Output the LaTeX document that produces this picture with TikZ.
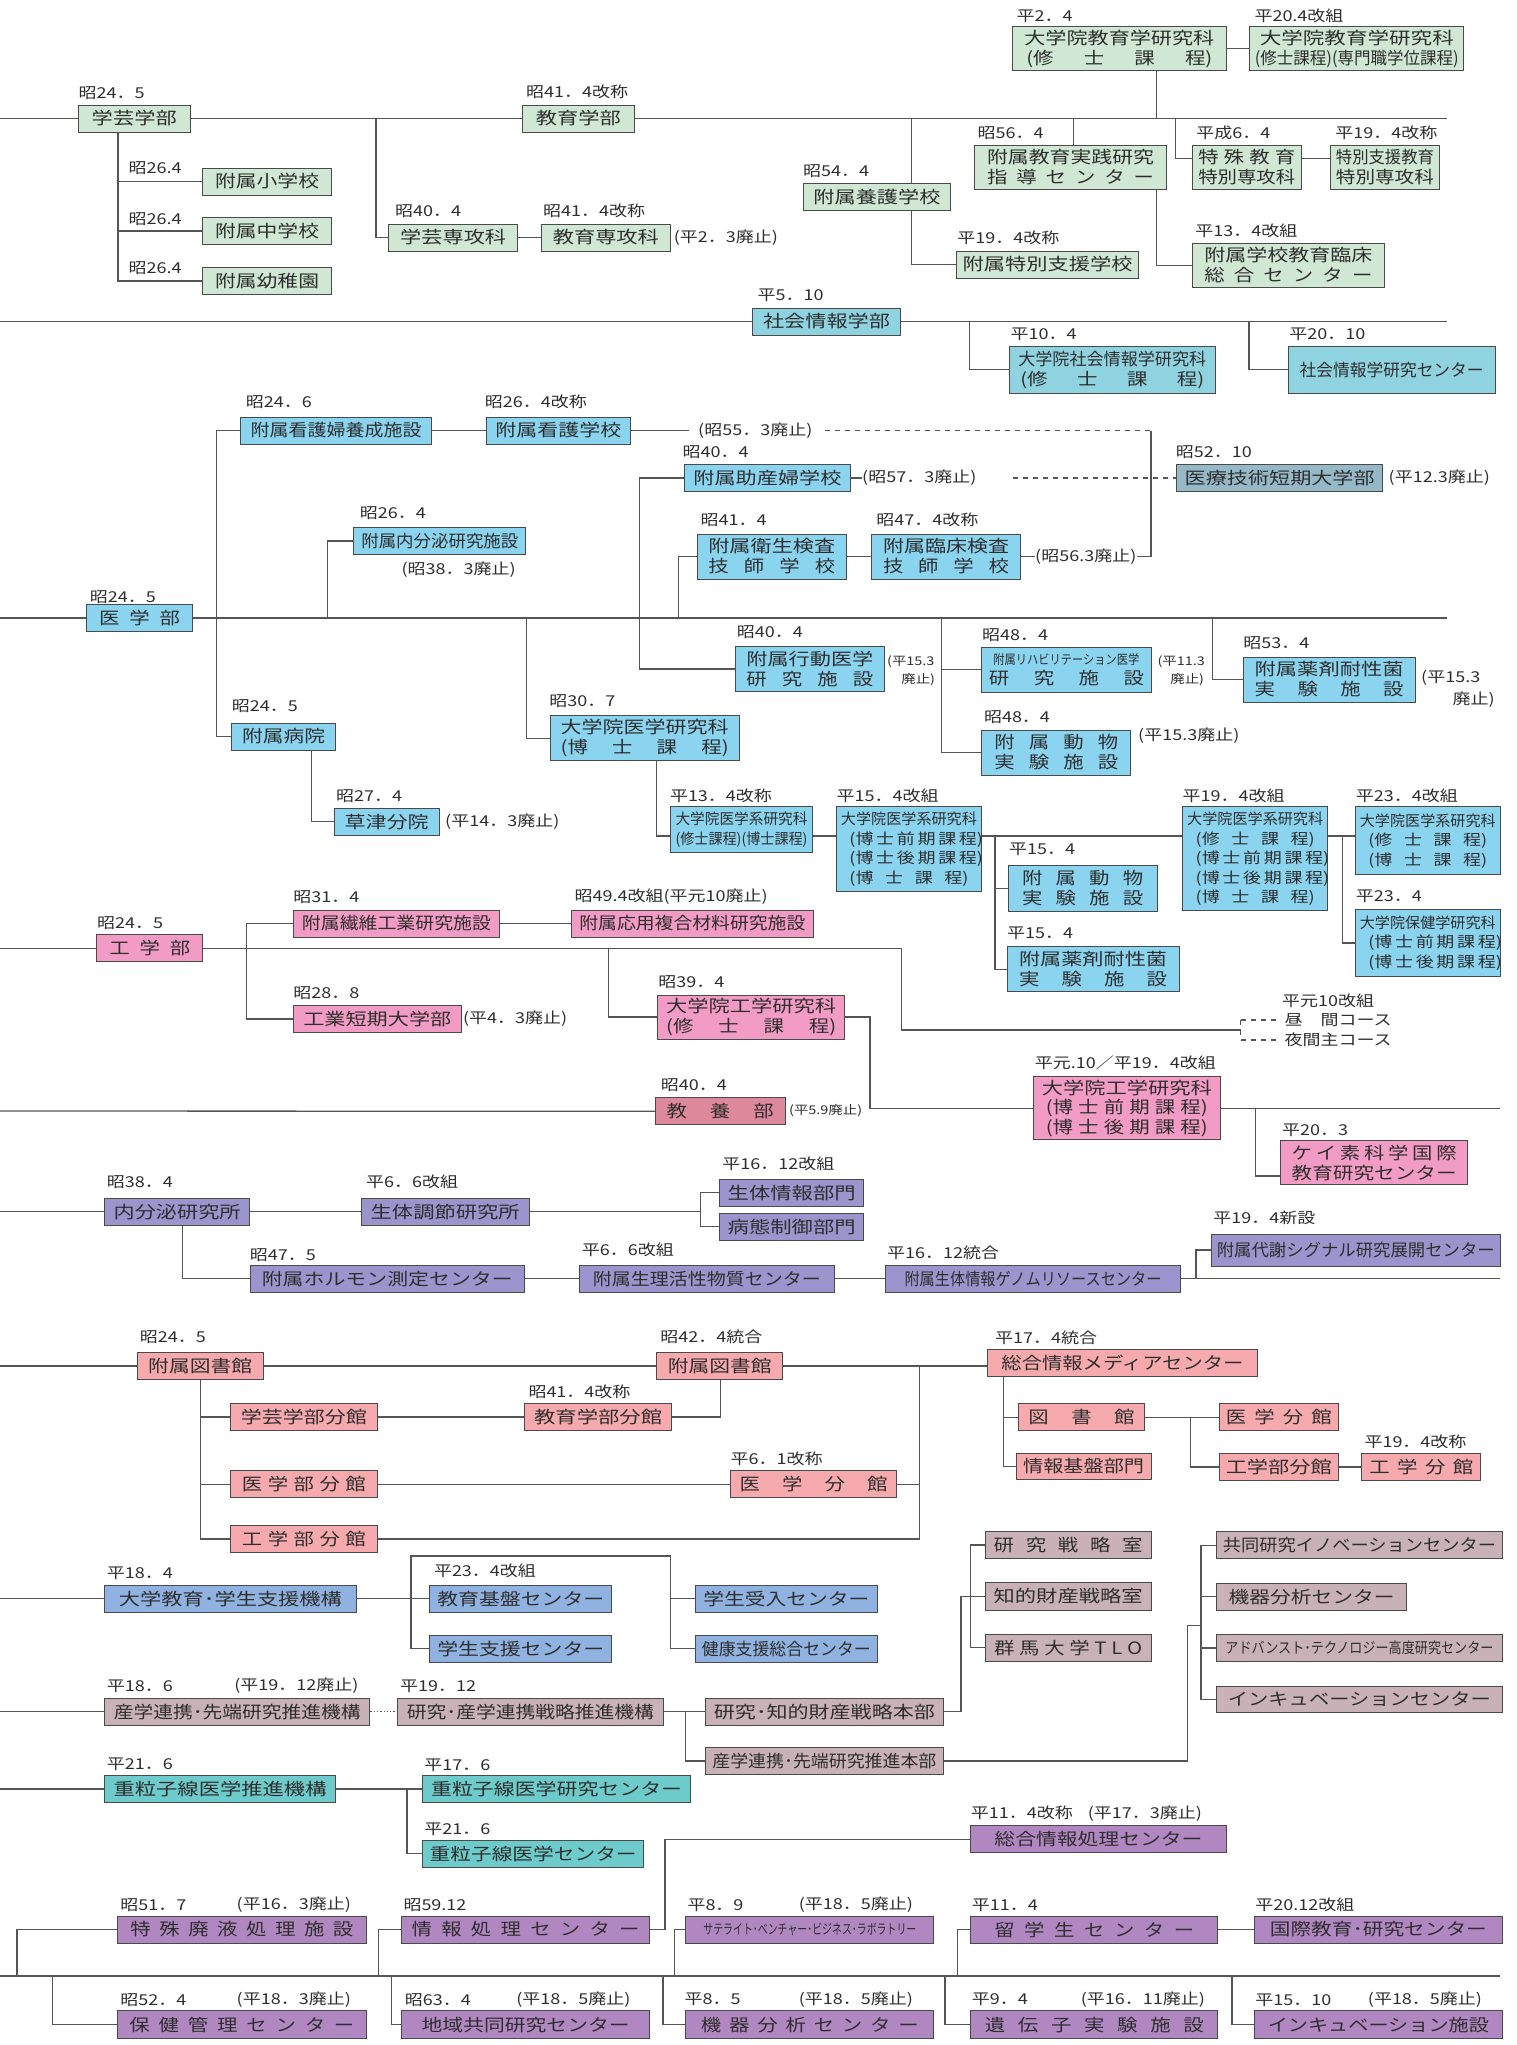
\documentclass[tikz,border=0pt]{standalone}
\usepackage{fontspec}
\usepackage{graphicx}
\newfontfamily\jp[FakeStretch=1.2]{Noto Sans CJK JP}
\pgfdeclarelayer{bgfill}
\pgfdeclarelayer{lines}
\pgfsetlayers{bgfill,lines,main}
\definecolor{cEdu}{HTML}{CFE7D3}
\definecolor{cSoc}{HTML}{8FD3E1}
\definecolor{cMed}{HTML}{8AD4F0}
\definecolor{cIryo}{HTML}{96B9C8}
\definecolor{cEng}{HTML}{F29BC4}
\definecolor{cKyoyo}{HTML}{DE899B}
\definecolor{cEndo}{HTML}{9B94CD}
\definecolor{cLib}{HTML}{F6AAAE}
\definecolor{cStu}{HTML}{8FB2E0}
\definecolor{cInd}{HTML}{C9B1B8}
\definecolor{cJur}{HTML}{6ECBCB}
\definecolor{cBot}{HTML}{B187C1}
\definecolor{cLn}{HTML}{555555}
\definecolor{cBdr}{HTML}{4A4A4A}
\definecolor{cTxt}{HTML}{2E2E2E}
\newcommand\jw[2]{\resizebox{#1pt}{\height}{#2}}
\newcommand\js[2]{\makebox[#1pt][s]{#2}}
\newcommand\mybox[8][]{%
  \pgfmathsetmacro\bxw{(#5)-(#4)}%
  \pgfmathsetmacro\bxc{((#4)+(#5))/2}%
  \node[bx,#1,fill=#3,minimum width=\bxw pt,minimum height=#7 pt] (#2) at (\bxc,#6) {#8};}
\tikzset{
  bx/.style={draw=cBdr,line width=1pt,inner sep=0pt,align=center,text=cTxt,font=\jp\fontsize{17}{20}\selectfont},
  sbx/.style={font=\jp\fontsize{15}{19.5}\selectfont},
  lbl/.style={anchor=west,inner sep=0pt,text=cTxt,font=\jp\fontsize{15}{17}\selectfont},
  sm/.style={anchor=west,inner sep=0pt,text=cTxt,font=\jp\fontsize{12}{14}\selectfont},
  ln/.style={draw=cLn,line width=1.3pt},
  dsh/.style={dash pattern=on 5pt off 5pt},
}
\begin{document}
\begin{tikzpicture}[x=1pt,y=-1pt]
\useasboundingbox (0,0) rectangle (1516,2045);
\begin{pgfonlayer}{bgfill}
\fill[white] (0,0) rectangle (1516,2045);
\end{pgfonlayer}

% ---------- Education ----------
\mybox{gakugei}{cEdu}{78.5}{190}{118.5}{27}{\jw{85}{学芸学部}}
\mybox{shogaku}{cEdu}{202.6}{331.5}{181.5}{27}{\jw{104}{附属小学校}}
\mybox{chugaku}{cEdu}{202.6}{331.5}{231}{27}{\jw{104}{附属中学校}}
\mybox{yochien}{cEdu}{202.6}{331.5}{281}{27}{\jw{104}{附属幼稚園}}
\mybox{gsenkou}{cEdu}{388.7}{517.6}{237.5}{27}{\jw{106}{学芸専攻科}}
\mybox{ksenkou}{cEdu}{541.4}{670.3}{237.5}{27}{\jw{106}{教育専攻科}}
\mybox{kyoiku}{cEdu}{522.5}{634}{118.5}{27}{\jw{85}{教育学部}}
\mybox{gradEd}{cEdu}{1012.4}{1226.2}{48.7}{44}{\jw{190}{大学院教育学研究科}\\\js{186}{(修 士 課 程)}}
\mybox{gradEdB}{cEdu}{1249.9}{1463.7}{48.7}{44}{\jw{194}{大学院教育学研究科}\\\jw{204}{(修士課程)(専門職学位課程)}}
\mybox{yogo}{cEdu}{803}{950.9}{196.8}{27}{\jw{127}{附属養護学校}}
\mybox{tokubetsu}{cEdu}{956.2}{1138.9}{264.5}{27}{\jw{170}{附属特別支援学校}}
\mybox{jissen}{cEdu}{974.6}{1166.5}{167.5}{44}{\jw{167}{附属教育実践研究}\\\js{167}{指 導 セ ン タ ー}}
\mybox{rinsho}{cEdu}{1192.2}{1384.6}{265.5}{44}{\jw{168}{附属学校教育臨床}\\\js{168}{総 合 セ ン タ ー}}
\mybox{tokushu}{cEdu}{1192.2}{1301.3}{167.5}{44}{\js{97}{特 殊 教 育}\\\jw{97}{特別専攻科}}
\mybox{tokushien}{cEdu}{1330.4}{1439.4}{167.5}{44}{\jw{98}{特別支援教育}\\\jw{98}{特別専攻科}}

\node[lbl] (la1) at (78.5,93) {昭24．5};
\node[lbl] (la2) at (128.4,168.3) {昭26.4};
\node[lbl] (la3) at (128.4,219) {昭26.4};
\node[lbl] (la4) at (128.4,268.5) {昭26.4};
\node[lbl] (la5) at (395,211) {昭40．4};
\node[lbl] (la6) at (542.9,211) {昭41．4改称};
\node[lbl] (la7) at (673.7,238) {(平2．3廃止)};
\node[lbl] (la8) at (525.9,91.7) {昭41．4改称};
\node[lbl] (la9) at (1016.3,16.3) {平2．4};
\node[lbl] (la10) at (1254.3,16.3) {平20.4改組};
\node[lbl] (la11) at (803,171) {昭54．4};
\node[lbl] (la12) at (957.1,238.3) {平19．4改称};
\node[lbl] (la13) at (977.5,133.3) {昭56．4};
\node[lbl] (la14) at (1195.1,231) {平13．4改組};
\node[lbl] (la15) at (1196.1,133.3) {平成6．4};
\node[lbl] (la16) at (1335.2,133.3) {平19．4改称};

% ---------- Social informatics ----------
\mybox{shakai}{cSoc}{752.7}{900.4}{321.5}{27}{\jw{127}{社会情報学部}}
\mybox{gradSoc}{cSoc}{1009}{1215.5}{369.7}{47}{\jw{188}{大学院社会情報学研究科}\\\js{184}{(修 士 課 程)}}
\mybox{socCenter}{cSoc}{1288.2}{1495.1}{369.7}{47}{\jw{184}{社会情報学研究センター}}
\node[lbl] (la17) at (757.5,295) {平5．10};
\node[lbl] (la18) at (1010.5,334.5) {平10．4};
\node[lbl] (la19) at (1289.2,334.5) {平20．10};

% ---------- Medicine ----------
\mybox{igaku}{cMed}{86.3}{192.9}{618}{27}{\js{81}{医 学 部}}
\mybox{kango1}{cMed}{240.9}{431.4}{430.5}{27}{\jw{171}{附属看護婦養成施設}}
\mybox{kango2}{cMed}{486.1}{630.6}{430.5}{27}{\jw{126}{附属看護学校}}
\mybox{josan}{cMed}{684.4}{850.5}{478}{27}{\jw{148}{附属助産婦学校}}
\mybox{eisei}{cMed}{697}{846.6}{556.5}{45}{\jw{127}{附属衛生検査}\\\js{127}{技 師 学 校}}
\mybox{rinshoken}{cMed}{871.4}{1020.6}{556.5}{45}{\jw{126}{附属臨床検査}\\\js{126}{技 師 学 校}}
\mybox{iryo}{cIryo}{1176.7}{1382.7}{478}{27}{\jw{190}{医療技術短期大学部}}
\mybox{naibunpiA}{cMed}{353.8}{525.9}{541}{27}{\jw{157}{附属内分泌研究施設}}
\mybox{kodo}{cMed}{735.3}{884.4}{669}{45}{\jw{127}{附属行動医学}\\\js{127}{研 究 施 設}}
\mybox{rihabiri}{cMed}{981.9}{1151}{669.5}{45}{\jw{146}{\fontsize{13}{15}\selectfont 附属リハビリテーション医学}\\\js{155}{研 究 施 設}}
\mybox{dobutsuA}{cMed}{981.9}{1130.7}{752.5}{45}{\js{124}{附 属 動 物}\\\js{124}{実 験 施 設}}
\mybox{yakuzaiA}{cMed}{1243.1}{1415.2}{679.5}{45}{\jw{149}{附属薬剤耐性菌}\\\js{149}{実 験 施 設}}
\mybox{byoin}{cMed}{231.2}{335.9}{736.5}{27}{\jw{83}{附属病院}}
\mybox{kusatsu}{cMed}{334}{439.1}{821.8}{27}{\jw{84}{草津分院}}
\mybox{gradMed}{cMed}{550.1}{739.2}{738.3}{45}{\jw{168}{大学院医学研究科}\\\js{168}{(博 士 課 程)}}
\mybox[sbx]{gradMedB}{cMed}{670.3}{812.7}{829.5}{45.6}{\jw{132}{大学院医学系研究科}\\\jw{132}{(修士課程)(博士課程)}}
\mybox[sbx]{gradMedC}{cMed}{836.5}{981.4}{849.2}{85}{\jw{136}{大学院医学系研究科}\\\js{119}{(博 士 前 期 課 程)}\\\js{119}{(博 士 後 期 課 程)}\\\js{119}{(博 士 課 程)}}
\mybox{dobutsuB}{cMed}{1008}{1157.3}{888.5}{45.7}{\js{121}{附 属 動 物}\\\js{121}{実 験 施 設}}
\mybox{yakuzaiB}{cMed}{1007}{1179.1}{969.2}{45}{\jw{148}{附属薬剤耐性菌}\\\js{148}{実 験 施 設}}
\mybox[sbx]{gradMedD}{cMed}{1182.5}{1327.9}{858.8}{104.3}{\jw{136}{大学院医学系研究科}\\\js{119}{(修 士 課 程)}\\\js{119}{(博 士 前 期 課 程)}\\\js{119}{(博 士 後 期 課 程)}\\\js{119}{(博 士 課 程)}}
\mybox[sbx]{gradMedE}{cMed}{1355.6}{1500}{840.8}{68.3}{\jw{136}{大学院医学系研究科}\\\js{119}{(修 士 課 程)}\\\js{119}{(博 士 課 程)}}
\mybox[sbx]{hokengaku}{cMed}{1355.6}{1500}{943}{67.7}{\jw{136}{大学院保健学研究科}\\\js{119}{(博 士 前 期 課 程)}\\\js{119}{(博 士 後 期 課 程)}}

\node[lbl] (la20) at (245.7,401.7) {昭24．6};
\node[lbl] (la21) at (484.7,401.7) {昭26．4改称};
\node[lbl] (n55) at (698,430.5) {(昭55．3廃止)};
\node[lbl] (la22) at (682.4,451.7) {昭40．4};
\node[lbl] (n57) at (862,478) {(昭57．3廃止)};
\node[lbl] (la23) at (1175.7,452.3) {昭52．10};
\node[lbl] (la24) at (1388.5,478) {(平12.3廃止)};
\node[lbl] (la25) at (700.4,520) {昭41．4};
\node[lbl] (la26) at (876.2,520) {昭47．4改称};
\node[lbl] (n56) at (1035,556.5) {(昭56.3廃止)};
\node[lbl] (la27) at (359.6,513.3) {昭26．4};
\node[lbl] (la28) at (401.3,569.3) {(昭38．3廃止)};
\node[lbl] (la29) at (89.7,596.7) {昭24．5};
\node[lbl] (la30) at (736.7,631.7) {昭40．4};
\node[sm] (sm1) at (887,661.7) {(平15.3};
\node[sm,anchor=east] (sm2) at (935.3,680) {廃止)};
\node[lbl] (la31) at (981.9,635) {昭48．4};
\node[sm] (sm3) at (1157.3,661.7) {(平11.3};
\node[sm,anchor=east] (sm4) at (1204.3,680) {廃止)};
\node[lbl] (la32) at (1243.1,643.3) {昭53．4};
\node[lbl] (la33) at (1421,678.3) {(平15.3};
\node[lbl,anchor=east] (la34) at (1495,700) {廃止)};
\node[lbl] (la35) at (231.7,706) {昭24．5};
\node[lbl] (la36) at (335.9,796) {昭27．4};
\node[lbl] (la37) at (445,821.7) {(平14．3廃止)};
\node[lbl] (la38) at (549.2,701) {昭30．7};
\node[lbl] (la39) at (669.8,796) {平13．4改称};
\node[lbl] (la40) at (836.5,796) {平15．4改組};
\node[lbl] (la41) at (1009,849.3) {平15．4};
\node[lbl] (la42) at (1007,933.3) {平15．4};
\node[lbl] (la43) at (1182.5,796) {平19．4改組};
\node[lbl] (la44) at (1355.6,796) {平23．4改組};
\node[lbl] (la45) at (1355.6,896.7) {平23．4};
\node[lbl] (la46) at (983.8,716.7) {昭48．4};
\node[lbl] (la47) at (1138,736) {(平15.3廃止)};

% ---------- Engineering ----------
\mybox{kogaku}{cEng}{96.9}{202.6}{948.3}{27}{\js{81}{工 学 部}}
\mybox{seni}{cEng}{293.2}{499.7}{923.5}{27}{\jw{189}{附属繊維工業研究施設}}
\mybox{oyo}{cEng}{571}{813.7}{923.5}{27}{\jw{226}{附属応用複合材料研究施設}}
\mybox{tandai}{cEng}{293.2}{461.4}{1019}{27}{\jw{148}{工業短期大学部}}
\mybox{gradEngA}{cEng}{657.7}{844.7}{1017}{44}{\jw{170}{大学院工学研究科}\\\js{170}{(修 士 課 程)}}
\mybox[font=\jp\fontsize{17}{19.5}\selectfont]{gradEngB}{cEng}{1033.2}{1220.3}{1108.3}{63.3}{\jw{170}{大学院工学研究科}\\\js{162}{(博 士 前 期 課 程)}\\\js{162}{(博 士 後 期 課 程)}}
\mybox{keiso}{cEng}{1280.9}{1467.5}{1162.8}{43.7}{\js{165}{ケ イ 素 科 学 国 際}\\\jw{165}{教育研究センター}}
\mybox{kyoyo}{cKyoyo}{655.3}{785.1}{1111.3}{27.3}{\js{107}{教 養 部}}

\node[lbl] (la48) at (293.2,896.7) {昭31．4};
\node[lbl] (la49) at (574.4,896.7) {昭49.4改組(平元10廃止)};
\node[lbl] (la50) at (96.9,922.7) {昭24．5};
\node[lbl] (la51) at (293.2,993.3) {昭28．8};
\node[lbl] (la52) at (462.9,1019) {(平4．3廃止)};
\node[lbl] (la53) at (658.2,981.7) {昭39．4};
\node[lbl] (la54) at (1281.9,1000.7) {平元10改組};
\node[lbl] (la55) at (1284.3,1020) {昼　間コース};
\node[lbl] (la56) at (1284.3,1040) {夜間主コース};
\node[lbl] (la57) at (1034.7,1062.7) {平元.10／平19．4改組};
\node[lbl] (la58) at (1281.9,1130) {平20．3};
\node[lbl] (la59) at (660.6,1085) {昭40．4};
\node[sm] (sm5) at (789,1111) {(平5.9廃止)};

% ---------- Endocrine ----------
\mybox{naibunpi}{cEndo}{104.7}{249.6}{1211.7}{26.7}{\jw{127}{内分泌研究所}}
\mybox{seitai}{cEndo}{361.1}{529.3}{1211.7}{26.7}{\jw{149}{生体調節研究所}}
\mybox{seitaijoho}{cEndo}{719.8}{863.6}{1192.7}{26.7}{\jw{128}{生体情報部門}}
\mybox{byotai}{cEndo}{719.8}{863.6}{1226.7}{26.7}{\jw{128}{病態制御部門}}
\mybox{hormone}{cEndo}{250.1}{524.4}{1278.7}{27.3}{\jw{251}{附属ホルモン測定センター}}
\mybox{seiri}{cEndo}{579.2}{834.5}{1278.7}{27.3}{\jw{228}{附属生理活性物質センター}}
\mybox{genome}{cEndo}{885.9}{1180.1}{1278.7}{27.3}{\jw{257}{附属生体情報ゲノムリソースセンター}}
\mybox{taisha}{cEndo}{1211.6}{1500}{1250}{32}{\jw{278}{附属代謝シグナル研究展開センター}}

\node[lbl] (la60) at (106.6,1182.3) {昭38．4};
\node[lbl] (la61) at (365.9,1182.3) {平6．6改組};
\node[lbl] (la62) at (722.2,1164) {平16．12改組};
\node[lbl] (la63) at (249.6,1255) {昭47．5};
\node[lbl] (la64) at (581.6,1250) {平6．6改組};
\node[lbl] (la65) at (886.9,1253.3) {平16．12統合};
\node[lbl] (la66) at (1213.1,1218.3) {平19．4新設};

% ---------- Library ----------
\mybox{libA}{cLib}{137.2}{263.2}{1366}{27.4}{\jw{104}{附属図書館}}
\mybox{libB}{cLib}{656.8}{782.7}{1366}{27.4}{\jw{104}{附属図書館}}
\mybox{media}{cLib}{987.2}{1257.7}{1363}{27}{\jw{242}{総合情報メディアセンター}}
\mybox{gakugeiBun}{cLib}{230.7}{377.1}{1417}{27.4}{\jw{126}{学芸学部分館}}
\mybox{kyoikuBun}{cLib}{524.4}{671.8}{1417}{27.4}{\jw{128}{教育学部分館}}
\mybox{igakuBun}{cLib}{230.7}{377.1}{1484.2}{27}{\js{124}{医 学 部 分 館}}
\mybox{kogakuBun}{cLib}{230.7}{377.1}{1539}{27.3}{\js{124}{工 学 部 分 館}}
\mybox{igakuBunkan}{cLib}{730.4}{896.6}{1484.2}{27}{\js{148}{医 学 分 館}}
\mybox{tosho}{cLib}{1018.2}{1144.7}{1417.3}{27.3}{\js{106}{図 書 館}}
\mybox{johokiban}{cLib}{1016.3}{1151}{1466.5}{26.3}{\jw{121}{情報基盤部門}}
\mybox{igakuBunB}{cLib}{1219.4}{1338.1}{1417.3}{27.3}{\js{106}{医 学 分 館}}
\mybox{kogakuBunB}{cLib}{1219.4}{1338.1}{1467}{26.6}{\jw{106}{工学部分館}}
\mybox{kogakuBunkan}{cLib}{1361.9}{1480.6}{1467}{26.6}{\js{104}{工 学 分 館}}

\node[lbl] (la67) at (139.6,1336.7) {昭24．5};
\node[lbl] (la68) at (660.1,1336.7) {昭42．4統合};
\node[lbl] (la69) at (995,1337.7) {平17．4統合};
\node[lbl] (la70) at (528.3,1391.7) {昭41．4改称};
\node[lbl] (la71) at (730.4,1458.7) {平6．1改称};
\node[lbl] (la72) at (1364.3,1441.7) {平19．4改称};

% ---------- Student support ----------
\mybox{daigaku}{cStu}{104.7}{356.2}{1598.7}{27.3}{\jw{223}{大学教育･学生支援機構}}
\mybox{kiban}{cStu}{429.9}{611.7}{1598.7}{27.3}{\jw{167}{教育基盤センター}}
\mybox{shien}{cStu}{429.9}{611.7}{1648.7}{27.3}{\jw{167}{学生支援センター}}
\mybox{ukeire}{cStu}{695.5}{877.2}{1598.7}{27.3}{\jw{166}{学生受入センター}}
\mybox{kenko}{cStu}{695.5}{877.2}{1648.7}{27.3}{\jw{169}{健康支援総合センター}}
\node[lbl] (la73) at (106.6,1573.3) {平18．4};
\node[lbl] (la74) at (433.8,1570.7) {平23．4改組};

% ---------- Industry ----------
\mybox{sangaku}{cInd}{104.7}{369.8}{1711.7}{26.7}{\jw{247}{産学連携･先端研究推進機構}}
\mybox{kenkyuSangaku}{cInd}{397.9}{663}{1711.7}{26.7}{\jw{247}{研究･産学連携戦略推進機構}}
\mybox{chizai}{cInd}{705.2}{943.6}{1711.7}{26.7}{\jw{221}{研究･知的財産戦略本部}}
\mybox{sentan}{cInd}{705.2}{943.6}{1761}{26.6}{\jw{224}{産学連携･先端研究推進本部}}
\mybox{senryaku}{cInd}{985.3}{1151}{1545}{26.6}{\js{149}{研 究 戦 略 室}}
\mybox{chitekiShitsu}{cInd}{985.3}{1151}{1596.4}{27.3}{\jw{149}{知的財産戦略室}}
\mybox{tlo}{cInd}{985.3}{1151}{1647.5}{27}{\js{148}{群 馬 大 学 T L O}}
\mybox{kyodo}{cInd}{1216.5}{1502.4}{1545.3}{27.3}{\jw{273}{共同研究イノベーションセンター}}
\mybox{kiki}{cInd}{1216.5}{1406.5}{1596.7}{26.7}{\jw{166}{機器分析センター}}
\mybox{advanced}{cInd}{1216.5}{1502.4}{1648}{27.4}{\jw{268}{\fontsize{15}{17}\selectfont アドバンスト･テクノロジー高度研究センター}}
\mybox{incubation}{cInd}{1216.5}{1502.4}{1699.2}{26.3}{\jw{263}{インキュベーションセンター}}
\node[lbl] (la75) at (106.6,1686) {平18．6};
\node[lbl] (la76) at (234.1,1686) {(平19．12廃止)};
\node[lbl] (la77) at (399.9,1686) {平19．12};

% ---------- Heavy ion ----------
\mybox{jurGi}{cJur}{104.7}{335.4}{1789}{26.6}{\jw{213}{重粒子線医学推進機構}}
\mybox{jurKen}{cJur}{422.6}{690.7}{1789}{26.6}{\jw{251}{重粒子線医学研究センター}}
\mybox{jurCen}{cJur}{422.6}{643.7}{1853.8}{27}{\jw{207}{重粒子線医学センター}}
\node[lbl] (la78) at (106.6,1764) {平21．6};
\node[lbl] (la79) at (424.1,1765) {平17．6};
\node[lbl] (la80) at (424.1,1829.3) {平21．6};

% ---------- Bottom group ----------
\mybox{haieki}{cBot}{117.8}{366}{1929.5}{27}{\js{223}{特 殊 廃 液 処 理 施 設}}
\mybox{hokenkanri}{cBot}{117.8}{366}{2024.6}{27.3}{\js{225}{保 健 管 理 セ ン タ ー}}
\mybox{joho}{cBot}{401.8}{649.5}{1929.5}{27}{\js{228}{情 報 処 理 セ ン タ ー}}
\mybox{chiiki}{cBot}{401.8}{649.5}{2024.6}{27.3}{\jw{208}{地域共同研究センター}}
\mybox{satellite}{cBot}{685.8}{933.9}{1929.5}{27}{\jw{213}{\fontsize{14}{16}\selectfont サテライト･ベンチャー･ビジネス･ラボラトリー}}
\mybox{kikiBunseki}{cBot}{685.8}{933.9}{2024.6}{27.3}{\js{218}{機 器 分 析 セ ン タ ー}}
\mybox{sogoJoho}{cBot}{970.7}{1226.2}{1839.2}{27}{\jw{208}{総合情報処理センター}}
\mybox{ryugaku}{cBot}{970.7}{1217.9}{1929.5}{27}{\js{200}{留 学 生 セ ン タ ー}}
\mybox{kokusai}{cBot}{1254.3}{1502.4}{1929.5}{27}{\jw{217}{国際教育･研究センター}}
\mybox{idenshi}{cBot}{970.7}{1217.9}{2024.6}{27.3}{\js{219}{遺 伝 子 実 験 施 設}}
\mybox{incShisetsu}{cBot}{1254.3}{1502.4}{2024.6}{27.3}{\jw{221}{インキュベーション施設}}

\node[lbl] (la81) at (970.7,1813.3) {平11．4改称\quad(平17．3廃止)};
\node[lbl] (la82) at (120.2,1905) {昭51．7};
\node[lbl] (la83) at (236.5,1905) {(平16．3廃止)};
\node[lbl] (la84) at (403.3,1905) {昭59.12};
\node[lbl] (la85) at (687.3,1905) {平8．9};
\node[lbl] (la86) at (798.7,1905) {(平18．5廃止)};
\node[lbl] (la87) at (971.7,1905) {平11．4};
\node[lbl] (la88) at (1255.2,1905) {平20.12改組};
\node[lbl] (la89) at (120.2,2000) {昭52．4};
\node[lbl] (la90) at (236.5,2000) {(平18．3廃止)};
\node[lbl] (la91) at (404.7,2000) {昭63．4};
\node[lbl] (la92) at (516.2,2000) {(平18．5廃止)};
\node[lbl] (la93) at (684.4,1999) {平8．5};
\node[lbl] (la94) at (798.7,2000) {(平18．5廃止)};
\node[lbl] (la95) at (971.7,1999) {平9．4};
\node[lbl] (la96) at (1080.7,2000) {(平16．11廃止)};
\node[lbl] (la97) at (1255.2,2000) {平15．10};
\node[lbl] (la98) at (1367.7,2000) {(平18．5廃止)};

% ================= connectors =================
\begin{pgfonlayer}{lines}
% education
\draw[ln] (0,118.5) -- (1446.7,118.5);
\draw[ln] (118,132) |- (shogaku.west);
\draw[ln] (118,132) |- (chugaku.west);
\draw[ln] (118,132) |- (yochien.west);
\draw[ln] (376.1,118.5) |- (gsenkou.west);
\draw[ln] (gsenkou.east) -- (ksenkou.west);
\draw[ln] (gradEd.east) -- (gradEdB.west);
\draw[ln] (1156.4,60) -- (1156.4,118.5);
\draw[ln] (911.6,118.5) |- (tokubetsu.west);
\draw[ln] (1073.5,118.5) -- (1073.5,150);
\draw[ln] (1156.4,180) |- (rinsho.west);
\draw[ln] (1175.3,118.5) |- (1340,158.3);
% social
\draw[ln] (0,321.5) -- (1446.7,321.5);
\draw[ln] (969.7,321.5) |- (gradSoc.west);
\draw[ln] (1248.9,321.5) |- (socCenter.west);
% medicine
\draw[ln] (0,618) -- (1446.7,618);
\draw[ln] (kango1.west) -| (216.2,736.5) -- (byoin.west);
\draw[ln] (kango1.east) -- (kango2.west);
\draw[ln] (kango2.east) -- ([xshift=-9pt]n55.west);
\draw[ln,dsh] ([xshift=12pt]n55.east) -- (1151,430.5);
\draw[ln] (1151,430.5) |- (n56.east);
\draw[ln] (rinshoken.east) -- (n56.west);
\draw[ln] (eisei.east) -- (rinshoken.west);
\draw[ln] (678.6,618) |- (eisei.west);
\draw[ln] (josan.west) -| (639.8,669) -- (kodo.west);
\draw[ln] (josan.east) -- (n57.west);
\draw[ln,dsh] (1012.9,478) -- (iryo.west);
\draw[ln] (327.7,618) |- (naibunpiA.west);
\draw[ln] (526.4,618) |- (gradMed.west);
\draw[ln] (941.6,618) |- (dobutsuA.west);
\draw[ln] (941.6,669.5) -- (rihabiri.west);
\draw[ln] (1212.6,618) |- (yakuzaiA.west);
\draw[ln] (311.2,745) |- (kusatsu.west);
\draw[ln] (656.8,755) |- (680,836);
\draw[ln] (800,836) -- (850,836);
\draw[ln] (970,836) -- (1190,836);
\draw[ln] (995,836) |- (dobutsuB.west);
\draw[ln] (995,836) |- (yakuzaiB.west);
\draw[ln] (1320,836) -- (1365,836);
\draw[ln] (1342.5,836) |- (hokengaku.west);
% engineering
\draw[ln] (0,948.3) -- (901.4,948.3) -- (901.4,1030) -- (1240.7,1030);
\draw[ln,dsh] (1240.7,1020) -- (1240.7,1040);
\draw[ln,dsh] (1240.7,1020) -- (1277,1020);
\draw[ln,dsh] (1240.7,1040) -- (1277,1040);
\draw[ln] (seni.west) -| (246.2,1019) -- (tandai.west);
\draw[ln] (seni.east) -- (oyo.west);
\draw[ln] (608.8,948.3) |- (gradEngA.west);
\draw[ln] (gradEngA.east) -| (869.9,1108.3) -- (gradEngB.west);
\draw[ln] (gradEngB.east) -- (1500,1108.3);
\draw[ln] (1255.2,1108.3) |- (1285,1176);
\draw[ln] (0,1111) -- (kyoyo.west);
% endocrine
\draw[ln] (0,1211.7) -- (700.4,1211.7);
\draw[ln] (seitaijoho.west) -| (700.4,1226.7) -- (byotai.west);
\draw[ln] (182.2,1222) |- (hormone.west);
\draw[ln] (hormone.east) -- (seiri.west);
\draw[ln] (seiri.east) -- (genome.west);
\draw[ln] (genome.east) -- (1500,1278.7);
\draw[ln] (1196.1,1278.7) |- (taisha.west);
% library
\draw[ln] (0,1366) -- (990,1366);
\draw[ln] (200.2,1375) |- (gakugeiBun.west);
\draw[ln] (200.2,1375) |- (igakuBun.west);
\draw[ln] (200.2,1375) |- (kogakuBun.west);
\draw[ln] (gakugeiBun.east) -- (kyoikuBun.west);
\draw[ln] (kyoikuBun.east) -| (720.3,1375);
\draw[ln] (igakuBun.east) -- (igakuBunkan.west);
\draw[ln] (igakuBunkan.east) -- (919.3,1484.2);
\draw[ln] (kogakuBun.east) -| (919.3,1366);
\draw[ln] (1003.2,1370) |- (tosho.west);
\draw[ln] (1003.2,1370) |- (johokiban.west);
\draw[ln] (tosho.east) -- (igakuBunB.west);
\draw[ln] (1190.3,1417.3) |- (kogakuBunB.west);
\draw[ln] (kogakuBunB.east) -- (kogakuBunkan.west);
% student support
\draw[ln] (0,1598.7) -- (daigaku.west);
\draw[ln] (daigaku.east) -- (kiban.west);
\draw[ln] (411,1598.7) |- (shien.west);
\draw[ln] (411,1598.7) |- (670.3,1556) |- (ukeire.west);
\draw[ln] (670.3,1598.7) |- (kenko.west);
% industry
\draw[ln] (0,1711.7) -- (sangaku.west);
\draw[ln,dotted] (sangaku.east) -- (kenkyuSangaku.west);
\draw[ln] (kenkyuSangaku.east) -- (chizai.west);
\draw[ln] (685.8,1711.7) |- (sentan.west);
\draw[ln] (chizai.east) -| (961,1596.4) -- (chitekiShitsu.west);
\draw[ln] (senryaku.west) -| (970.7,1647.5) -- (tlo.west);
\draw[ln] (sentan.east) -| (1187.4,1625.7) -- (1201,1625.7);
\draw[ln] (kyodo.west) -| (1201,1699.2) -- (incubation.west);
\draw[ln] (1201,1596.7) -- (kiki.west);
\draw[ln] (1201,1648) -- (advanced.west);
% heavy ion
\draw[ln] (0,1789) -- (jurGi.west);
\draw[ln] (jurGi.east) -- (jurKen.west);
\draw[ln] (407.1,1789) |- (jurCen.west);
% bottom
\draw[ln] (0,1976) -- (1500,1976);
\draw[ln] (17,1976) |- (haieki.west);
\draw[ln] (52.3,1976) |- (hokenkanri.west);
\draw[ln] (378.5,1976) |- (joho.west);
\draw[ln] (391.6,1976) |- (chiiki.west);
\draw[ln] (674.2,1976) |- (satellite.west);
\draw[ln] (663,1976) |- (kikiBunseki.west);
\draw[ln] (joho.east) -| (665,1839.2) -- (sogoJoho.west);
\draw[ln] (957.6,1976) |- (ryugaku.west);
\draw[ln] (945,1976) |- (idenshi.west);
\draw[ln] (1232,1976) |- (incShisetsu.west);
\draw[ln] (ryugaku.east) -- (kokusai.west);
\end{pgfonlayer}
\end{tikzpicture}
\end{document}
